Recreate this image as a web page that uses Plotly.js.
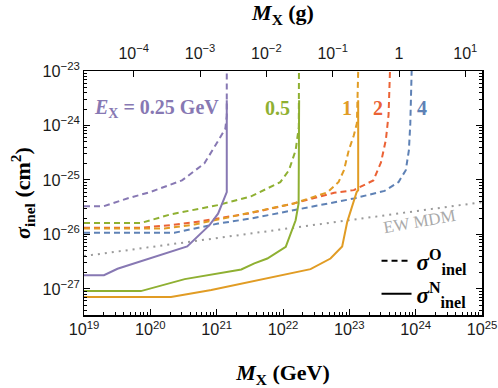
<!DOCTYPE html>
<html>
<head>
<meta charset="utf-8">
<script src="https://cdn.plot.ly/plotly-3.0.1.min.js"></script>
<style>
  html, body { margin: 0; padding: 0; background: #fff; }
  #chart { width: 498px; height: 388px; }
</style>
</head>
<body>
<div id="chart"></div>
<script>
// Inelastic cross-section bounds vs. mass

// GeV -> grams, for the top axis
const GEV_TO_G = 1.783e-24;

// E_X = 0.25 GeV
const massPurpleO = [1.0e19, 2.0e19, 4.6e19, 1.0e20, 3.0e20, 6.5e20, 1.0e21, 1.35e21, 1.42e21, 1.42e21];
const sigmaPurpleO = [3.3e-26, 3.3e-26, 4.6e-26, 6.0e-26, 9.8e-26, 2.0e-25, 4.7e-25, 8.7e-25, 1.5e-24, 1e-23];
const massPurpleN = [1.0e19, 2.0e19, 3.2e19, 3.6e20, 7.8e20, 1.05e21, 1.42e21, 1.42e21];
const sigmaPurpleN = [1.78e-27, 1.78e-27, 2.34e-27, 6.0e-27, 1.48e-26, 2.4e-26, 6.0e-26, 2.9e-24];

// E_X = 0.5 GeV
const massGreenO = [1.0e19, 7.2e19, 2.05e20, 1.05e21, 3.3e21, 9.1e21, 1.23e22, 1.55e22, 1.73e22, 1.74e22];
const sigmaGreenO = [1.62e-26, 1.62e-26, 2.34e-26, 3.45e-26, 5.0e-26, 9.1e-26, 1.51e-25, 3.5e-25, 9.3e-25, 1e-23];
const massGreenN = [1.0e19, 7.2e19, 3.3e20, 8.3e20, 2.35e21, 3.7e21, 5.8e21, 1.1e22, 1.55e22, 1.72e22, 1.75e22, 1.75e22];
const sigmaGreenN = [9.1e-28, 9.1e-28, 1.51e-27, 1.83e-27, 2.27e-27, 2.93e-27, 3.6e-27, 5.9e-27, 1.82e-26, 3.7e-26, 3.5e-25, 2.9e-24];

// E_X = 1 GeV
const massOrangeO = [1.0e19, 1.63e20, 4.65e20, 1.05e21, 3.3e21, 1.45e22, 4.65e22, 6.9e22, 8.3e22, 9.8e22, 1.17e23, 1.3e23, 1.36e23];
const sigmaOrangeO = [1.28e-26, 1.28e-26, 1.52e-26, 1.87e-26, 2.52e-26, 3.7e-26, 5.9e-26, 9.2e-26, 1.51e-25, 3.5e-25, 6.6e-25, 1.1e-24, 1e-23];
const massOrangeN = [1.0e19, 2.05e20, 8.3e20, 3.7e21, 2.6e22, 5.2e22, 7.8e22, 9.3e22, 1.29e23, 1.36e23, 1.36e23];
const sigmaOrangeN = [7.1e-28, 7.1e-28, 9.5e-28, 1.4e-27, 2.3e-27, 3.6e-27, 6.0e-27, 1.7e-26, 6.0e-26, 6.5e-26, 2.9e-24];

// E_X = 2 GeV
const massRedO = [1.0e19, 7.1e19, 2.0e20, 5.7e20, 3.2e21, 1.45e22, 5.9e22, 1.17e23, 2.3e23, 3.0e23, 3.55e23, 3.9e23, 4.1e23];
const sigmaRedO = [1.32e-26, 1.32e-26, 1.48e-26, 1.74e-26, 2.45e-26, 3.7e-26, 5.8e-26, 6.5e-26, 9.8e-26, 2.1e-25, 5.4e-25, 1.55e-24, 1e-23];

// E_X = 4 GeV
const massBlueO = [1.0e19, 2.3e20, 1.05e21, 3.3e21, 1.63e22, 1.17e23, 3.4e23, 5.5e23, 7.1e23, 7.9e23, 8.3e23, 8.7e23];
const sigmaBlueO = [1.07e-26, 1.07e-26, 1.58e-26, 1.96e-26, 2.86e-26, 4.56e-26, 6.3e-26, 9.1e-26, 1.51e-25, 3.5e-25, 1.08e-24, 1e-23];

// EW MDM reference line
const massEW = [1e19, 1e25];
const sigmaEW = [4.0e-27, 3.9e-26];

// top axis ticks (grams)
const gramTicks = [1e-4, 1e-3, 1e-2, 1e-1, 1, 10];
const gramTickText = ['10<sup>\u22124</sup>', '10<sup>\u22123</sup>', '10<sup>\u22122</sup>',
  '10<sup>\u22121</sup>', '1', '10<sup>1</sup>'];

const COLORS = {
  purple: '#8778B3',
  green: '#8FB032',
  orange: '#E19C24',
  red: '#EB6235',
  blue: '#5E81B5'
};

const DASH = '6px,4px';
const SERIF = 'Liberation Serif, DejaVu Serif, serif';
const SANS = 'Liberation Sans, Arial, sans-serif';

function curve(x, y, color, dashed) {
  return {
    x: x, y: y, type: 'scatter', mode: 'lines',
    line: { color: color, width: 2, dash: dashed ? DASH : 'solid' },
    showlegend: false, hoverinfo: 'skip'
  };
}

const traces = [
  {
    x: massEW, y: sigmaEW, type: 'scatter', mode: 'lines',
    line: { color: '#9a9a9a', width: 2, dash: '2px,5px' },
    showlegend: false, hoverinfo: 'skip'
  },
  curve(massBlueO, sigmaBlueO, COLORS.blue, true),
  curve(massRedO, sigmaRedO, COLORS.red, true),
  curve(massOrangeO, sigmaOrangeO, COLORS.orange, true),
  curve(massGreenO, sigmaGreenO, COLORS.green, true),
  curve(massPurpleO, sigmaPurpleO, COLORS.purple, true),
  curve(massOrangeN, sigmaOrangeN, COLORS.orange, false),
  curve(massGreenN, sigmaGreenN, COLORS.green, false),
  curve(massPurpleN, sigmaPurpleN, COLORS.purple, false),
  // empty trace so the gram axis on top is drawn
  {
    x: gramTicks, y: gramTicks.map(() => null), xaxis: 'x2', yaxis: 'y',
    type: 'scatter', mode: 'lines', showlegend: false, hoverinfo: 'skip'
  },
  // legend entries only
  {
    x: [null], y: [null], type: 'scatter', mode: 'lines',
    name: '<b><i>\u03c3</i><sup>O</sup><sub>inel</sub></b>',
    line: { color: '#000', width: 2, dash: DASH }
  },
  {
    x: [null], y: [null], type: 'scatter', mode: 'lines',
    name: '<b><i>\u03c3</i><sup>N</sup><sub>inel</sub></b>',
    line: { color: '#000', width: 2 }
  }
];

const xMinLog = 19, xMaxLog = 25;
const gOffset = Math.log10(GEV_TO_G);

function label(text, x, color) {
  return {
    text: '<b>' + text + '</b>', x: x, y: -23.68, xref: 'x', yref: 'y',
    showarrow: false, font: { family: SERIF, size: 20, color: color }
  };
}

const layout = {
  width: 498,
  height: 388,
  paper_bgcolor: '#fff',
  plot_bgcolor: '#fff',
  margin: { l: 84, r: 16, t: 71, b: 73 },
  font: { family: SANS, size: 13, color: '#1a1a1a' },
  showlegend: true,
  legend: {
    x: 0.735, y: 0.31, xanchor: 'left', yanchor: 'top',
    bgcolor: 'rgba(0,0,0,0)',
    font: { family: SERIF, size: 23, color: '#000' },
    tracegroupgap: 0
  },
  xaxis: {
    type: 'log',
    range: [xMinLog, xMaxLog],
    dtick: 1,
    exponentformat: 'power',
    tickfont: { family: SANS, size: 13, color: '#1a1a1a' },
    showgrid: false, zeroline: false,
    showline: true, linecolor: '#000', linewidth: 1.5,
    ticks: 'inside', ticklen: 6, tickcolor: '#000',
    minor: { ticks: 'inside', ticklen: 3, tickcolor: '#000', showgrid: false },
    title: {
      text: '<b><i>M</i><sub>X</sub> (GeV)</b>',
      font: { family: SERIF, size: 22, color: '#000' },
      standoff: 36
    }
  },
  xaxis2: {
    type: 'log',
    overlaying: 'x',
    anchor: 'y',
    side: 'top',
    range: [xMinLog + gOffset, xMaxLog + gOffset],
    tickmode: 'array',
    tickvals: gramTicks,
    ticktext: gramTickText,
    tickfont: { family: SANS, size: 16, color: '#1a1a1a' },
    ticklabelstandoff: 4,
    showgrid: false, zeroline: false,
    showline: true, linecolor: '#000', linewidth: 1.5,
    ticks: 'inside', ticklen: 6, tickcolor: '#000',
    title: {
      text: '<b><i>M</i><sub>X</sub> (g)</b>',
      font: { family: SERIF, size: 22, color: '#000' },
      standoff: 15
    }
  },
  yaxis: {
    type: 'log',
    range: [-27.48, -23],
    dtick: 1,
    exponentformat: 'power',
    tickfont: { family: SANS, size: 13, color: '#1a1a1a' },
    showgrid: false, zeroline: false,
    showline: true, linecolor: '#000', linewidth: 1.5,
    mirror: 'ticks',
    ticks: 'inside', ticklen: 6, tickcolor: '#000',
    minor: { ticks: 'inside', ticklen: 3, tickcolor: '#000', showgrid: false }
  },
  annotations: [
    {
      text: '<b><i>\u03c3</i><sub>inel</sub> (cm<sup>2</sup>)</b>',
      x: -0.156, y: 0.5, xref: 'paper', yref: 'paper',
      xanchor: 'center', yanchor: 'middle',
      showarrow: false, textangle: -90,
      font: { family: SERIF, size: 22, color: '#000' }
    },
    label('<i>E</i><sub>X</sub> = 0.25 GeV', 20.09, COLORS.purple),
    label('0.5', 21.92, COLORS.green),
    label('1', 22.97, COLORS.orange),
    label('2', 23.43, COLORS.red),
    label('4', 24.10, COLORS.blue),
    {
      text: 'EW MDM', x: 24.06, y: -25.76, xref: 'x', yref: 'y',
      showarrow: false, textangle: -10,
      font: { family: SERIF, size: 17, color: '#aaaaaa' }
    }
  ]
};

Plotly.newPlot('chart', traces, layout, { displayModeBar: false, staticPlot: true });
</script>
</body>
</html>
